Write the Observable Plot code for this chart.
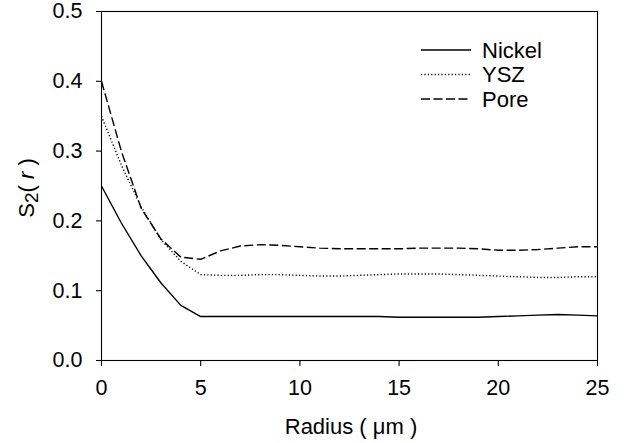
<!DOCTYPE html>
<html>
<head>
<meta charset="utf-8">
<script src="https://cdn.jsdelivr.net/npm/d3@7"></script>
<script src="https://cdn.jsdelivr.net/npm/@observablehq/plot@0.6"></script>
<style>
  html, body { margin: 0; padding: 0; background: #fff; }
  #chart { width: 624px; height: 443px; }
</style>
</head>
<body>
<div id="chart"></div>
<script>
const radius = [0,1,2,3,4,5,6,7,8,9,10,11,12,13,14,15,16,17,18,19,20,21,22,23,24,25];
const nickel = [0.250,0.197,0.150,0.111,0.079,0.063,0.063,0.063,0.063,0.063,0.063,0.063,0.063,0.063,0.063,0.062,0.062,0.062,0.062,0.062,0.063,0.064,0.065,0.066,0.065,0.064];
const ysz    = [0.350,0.280,0.220,0.173,0.142,0.123,0.122,0.122,0.123,0.123,0.122,0.121,0.121,0.122,0.123,0.124,0.124,0.124,0.123,0.122,0.121,0.120,0.119,0.119,0.120,0.120];
const pore   = [0.400,0.300,0.218,0.174,0.148,0.145,0.157,0.164,0.166,0.165,0.163,0.161,0.160,0.160,0.160,0.160,0.161,0.161,0.161,0.160,0.158,0.158,0.159,0.161,0.163,0.163];
const seriesNames = ["Nickel", "YSZ", "Pore"];
const dashes = {Nickel: null, YSZ: "1.2,2.2", Pore: "9,3.5"};
const xTicks = [0,5,10,15,20,25];
const yTicks = [0,0.1,0.2,0.3,0.4,0.5];

const seriesValues = {Nickel: nickel, YSZ: ysz, Pore: pore};
const rows = seriesNames.map(name => radius.map((r, i) => ({r, v: seriesValues[name][i], name})));

const font = "Arial, 'Liberation Sans', Helvetica, sans-serif";
const plot = Plot.plot({
  width: 624,
  height: 443,
  marginLeft: 101,
  marginRight: 27,
  marginTop: 11,
  marginBottom: 83,
  style: {fontFamily: font, fontSize: "21px", color: "black", background: "white"},
  x: {domain: [0, 25]},
  y: {domain: [0, 0.5]},
  marks: [
    Plot.frame({stroke: "black", strokeWidth: 1.1}),
    Plot.axisX({ticks: xTicks, tickSize: 6, tickPadding: 13, label: null, fontSize: 21.5, tickFormat: d3.format("d"), stroke: "black", strokeWidth: 1.1}),
    Plot.axisY({ticks: yTicks, tickSize: 5, tickPadding: 14, label: null, fontSize: 21.5, tickFormat: d3.format(".1f"), stroke: "black", strokeWidth: 1.1}),
    ...rows.map(data => Plot.line(data, {
      x: "r", y: "v",
      stroke: "black",
      strokeWidth: 1.4,
      strokeDasharray: dashes[data[0].name],
      strokeLinecap: "butt",
      curve: "linear"
    }))
  ]
});
document.getElementById("chart").appendChild(plot);

const svg = d3.select(plot);

// axis titles
svg.append("text")
  .attr("x", 351).attr("y", 434)
  .attr("text-anchor", "middle")
  .attr("font-family", font).attr("font-size", 22).attr("fill", "black")
  .text("Radius ( μm )");

const yl = svg.append("text")
  .attr("transform", "translate(34,188) rotate(-90)")
  .attr("text-anchor", "middle")
  .attr("font-family", font).attr("font-size", 22).attr("fill", "black");
yl.append("tspan").text("S");
yl.append("tspan").attr("dy", 4).attr("font-size", 19).text("2");
yl.append("tspan").attr("dy", -4).text("( ");
yl.append("tspan").attr("font-style", "italic").text("r");
yl.append("tspan").text(" )");

// legend
const legend = svg.append("g").attr("text-anchor", "start");
seriesNames.forEach((name, i) => {
  const y = 50 + i * 24.5;
  legend.append("line")
    .attr("x1", 421).attr("x2", 471).attr("y1", y).attr("y2", y)
    .attr("stroke", "black").attr("stroke-width", 1.4)
    .attr("stroke-dasharray", dashes[name]);
  legend.append("text")
    .attr("x", 482).attr("y", y).attr("dy", "0.35em")
    .attr("text-anchor", "start")
    .attr("font-family", font).attr("font-size", 22).attr("fill", "black")
    .text(name);
});
</script>
</body>
</html>
